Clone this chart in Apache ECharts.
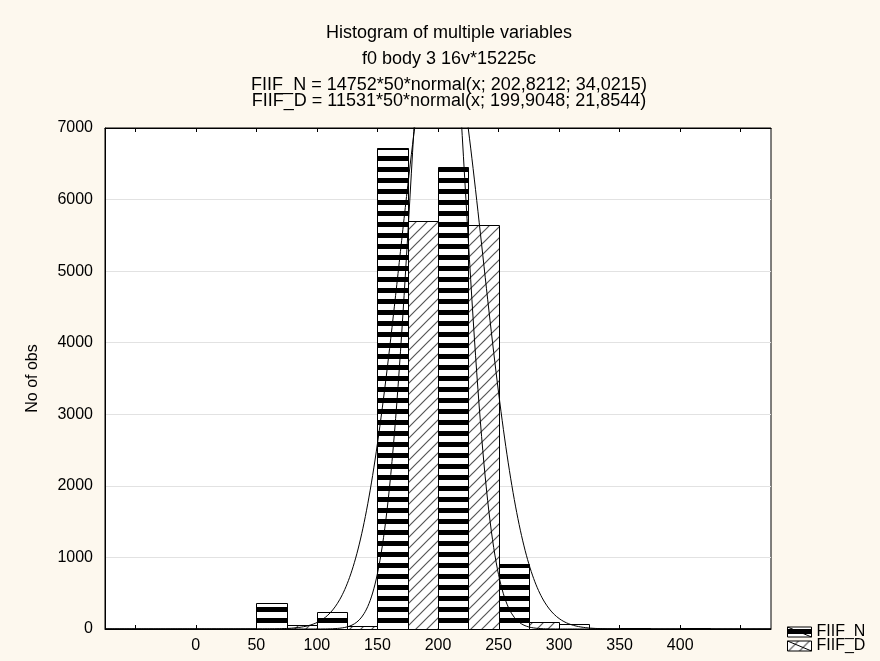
<!DOCTYPE html>
<html>
<head>
<meta charset="utf-8">
<script src="https://cdn.jsdelivr.net/npm/echarts@6/dist/echarts.min.js"></script>
<style>
  html, body { margin: 0; padding: 0; background: #fdf8ee; }
  #chart { width: 880px; height: 661px; }
</style>
</head>
<body>
<div id="chart"></div>
<script>
// Histogram bins: lower edges, width 50. FIIF_N fills the left half of a bin, FIIF_D the right half.
const binStart = [50, 100, 150, 200, 250, 300, 350, 400];
const binWidth = 50;
const countN = [360, 233, 6716, 6459, 908, 65, 12, 8];
const countD = [52, 42, 5700, 5640, 98, 0, 0, 0];

// Fitted normal curves: [n, bin width, mean, sd]
const fitN = [14752, 50, 202.8212, 34.0215];
const fitD = [11531, 50, 199.9048, 21.8544];

// Axis ticks and labels
const xTicks = [-50, 0, 50, 100, 150, 200, 250, 300, 350, 400, 450];
const xLabels = [0, 50, 100, 150, 200, 250, 300, 350, 400];
const yLabels = [0, 1000, 2000, 3000, 4000, 5000, 6000, 7000];

const FONT = "'Liberation Sans', Arial, sans-serif";

function fmt(v, d) { return v.toFixed(d).replace('.', ','); }
function fitText(name, p) {
  return name + ' = ' + p[0] + '*' + p[1] + '*normal(x; ' + fmt(p[2], 4) + '; ' + fmt(p[3], 4) + ')';
}
const titleLines = [
  'Histogram of multiple variables',
  'f0 body 3 16v*15225c',
  fitText('FIIF_N', fitN),
  fitText('FIIF_D', fitD)
];

// Fill patterns: horizontal black stripes and grey diagonal hatching
function stripePattern() {
  const c = document.createElement('canvas');
  c.width = 4; c.height = 11;
  const g = c.getContext('2d');
  g.fillStyle = '#fff'; g.fillRect(0, 0, 4, 11);
  g.fillStyle = '#000'; g.fillRect(0, 2, 4, 5);
  return { image: c, repeat: 'repeat' };
}
function hatchPattern() {
  const s = 11;
  const c = document.createElement('canvas');
  c.width = s; c.height = s;
  const g = c.getContext('2d');
  g.fillStyle = '#fff'; g.fillRect(0, 0, s, s);
  g.strokeStyle = '#555'; g.lineWidth = 1.2;
  g.beginPath();
  g.moveTo(-1, s + 1); g.lineTo(s + 1, -1);
  g.moveTo(-1, 1); g.lineTo(1, -1);
  g.moveTo(s - 1, s + 1); g.lineTo(s + 1, s - 1);
  g.stroke();
  return { image: c, repeat: 'repeat' };
}
const fillN = stripePattern();
const fillD = hatchPattern();

// Bar records: [x from, x to, count]
const barsN = binStart.map((b, i) => [b, b + binWidth / 2, countN[i]]);
const barsD = binStart.map((b, i) => [b + binWidth / 2, b + binWidth, countD[i]]);

function normalCurve(p) {
  const pts = [];
  for (let x = -75; x <= 475; x += 1) {
    const z = (x - p[2]) / p[3];
    pts.push([x, p[0] * p[1] * Math.exp(-0.5 * z * z) / (p[3] * Math.sqrt(2 * Math.PI))]);
  }
  return pts;
}

function renderBar(fill) {
  return function (params, api) {
    const v = api.value(2);
    if (!v) return null;
    const a = api.coord([api.value(0), v]);
    const b = api.coord([api.value(1), 0]);
    const x0 = Math.round(a[0]) + 0.5, x1 = Math.round(b[0]) + 0.5;
    const y0 = Math.round(a[1]) + 0.5, y1 = Math.round(b[1]) + 0.5;
    return {
      type: 'rect',
      shape: { x: x0, y: y0, width: x1 - x0, height: Math.max(y1 - y0, 1) },
      style: { fill: fill, stroke: '#000', lineWidth: 1 }
    };
  };
}

const chart = echarts.init(document.getElementById('chart'), null, { renderer: 'canvas' });
const titleY = [33, 59, 85, 101];
chart.setOption({
  backgroundColor: '#fdf8ee',
  animation: false,
  textStyle: { fontFamily: FONT },
  graphic: titleLines.map((t, i) => ({
    type: 'text',
    x: 449, y: titleY[i],
    style: { text: t, font: '18px ' + FONT, fill: '#000', align: 'center', verticalAlign: 'middle' }
  })),
  legend: [
    { name: 'FIIF_N', top: 624, left: 787 },
    { name: 'FIIF_D', top: 638, left: 787 }
  ].map((l, i) => ({
    left: l.left, top: l.top, orient: 'vertical', padding: 0,
    itemWidth: 24, itemHeight: 10, selectedMode: false,
    textStyle: { fontFamily: FONT, fontSize: 16, color: '#000', lineHeight: 12 },
    data: [{
      name: l.name,
      icon: 'path://M0,0H24V10H0Z M0,0L24,10',
      itemStyle: { color: i === 0 ? fillN : fillD, borderColor: '#000', borderWidth: 1 }
    }]
  })),
  grid: {
    left: 105, top: 128, width: 666, height: 501,
    show: true, backgroundColor: '#fff', borderColor: '#000', borderWidth: 1
  },
  xAxis: [{
    type: 'value', min: -75, max: 475, position: 'bottom',
    axisLine: { show: true, onZero: false, lineStyle: { color: '#000' } },
    axisTick: { show: true, inside: true, length: 4, customValues: xTicks, lineStyle: { color: '#000' } },
    axisLabel: { customValues: xLabels, fontSize: 16, color: '#000', margin: 9, fontFamily: FONT },
    splitLine: { show: false }
  }, {
    type: 'value', min: -75, max: 475, position: 'top',
    axisLine: { show: true, onZero: false, lineStyle: { color: '#000' } },
    axisTick: { show: true, inside: true, length: 4, customValues: xTicks, lineStyle: { color: '#000' } },
    axisLabel: { show: false },
    splitLine: { show: false }
  }],
  yAxis: {
    type: 'value', min: 0, max: 7000, interval: 1000,
    name: 'No of obs', nameLocation: 'middle', nameGap: 64,
    nameTextStyle: { fontSize: 16, color: '#000', fontFamily: FONT },
    axisLine: { show: true, onZero: false, lineStyle: { color: '#000' } },
    axisTick: { show: false },
    axisLabel: { fontSize: 16, color: '#000', margin: 12, fontFamily: FONT,
      customValues: yLabels, formatter: v => String(v) },
    splitLine: { show: true, lineStyle: { color: '#e2e2e2', width: 1 } }
  },
  series: [
    {
      name: 'FIIF_N', type: 'custom', xAxisIndex: 0, renderItem: renderBar(fillN),
      itemStyle: { color: fillN, borderColor: '#000', borderWidth: 1 },
      encode: { x: [0, 1], y: 2 }, data: barsN, z: 2
    },
    {
      name: 'FIIF_D', type: 'custom', xAxisIndex: 0, renderItem: renderBar(fillD),
      itemStyle: { color: fillD, borderColor: '#000', borderWidth: 1 },
      encode: { x: [0, 1], y: 2 }, data: barsD, z: 2
    },
    {
      name: 'fit FIIF_N', type: 'line', data: normalCurve(fitN), showSymbol: false, symbol: 'none',
      lineStyle: { color: '#000', width: 1 }, clip: true, z: 3, silent: true
    },
    {
      name: 'fit FIIF_D', type: 'line', data: normalCurve(fitD), showSymbol: false, symbol: 'none',
      lineStyle: { color: '#000', width: 1 }, clip: true, z: 3, silent: true
    }
  ]
});
</script>
</body>
</html>
